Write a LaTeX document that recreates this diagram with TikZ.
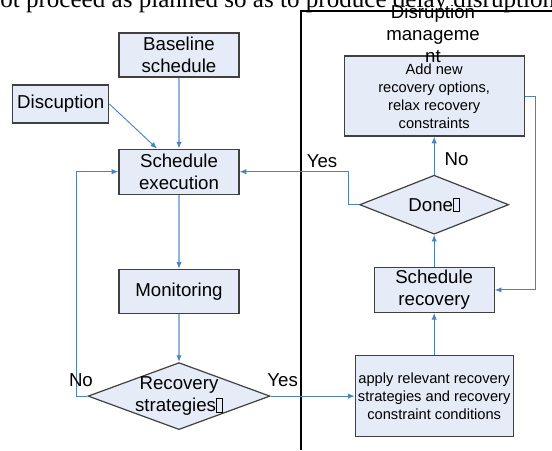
\documentclass[tikz,border=0pt]{standalone}
\usepackage{fontspec}
\setmainfont{Liberation Sans}
\newfontfamily\bodyserif{Liberation Serif}
\usetikzlibrary{shapes.geometric,arrows.meta,positioning,calc}
\definecolor{boxfill}{HTML}{E5EBF7}
\definecolor{boxline}{HTML}{404040}
\definecolor{flowblue}{HTML}{4F81BD}
\definecolor{flowlight}{HTML}{95B3D7}
\newcommand{\tofu}{{\setlength{\fboxsep}{0pt}\setlength{\fboxrule}{0.5pt}\fbox{\rule{0pt}{0.7em}\hspace{0.3em}}}}

\begin{document}
\begin{tikzpicture}[
    x=0.75pt, y=-0.75pt,
    font=\fontsize{14}{16.5}\selectfont,
    box/.style={rectangle, draw=boxline, line width=0.9pt, fill=boxfill, align=center, inner sep=1pt},
    smallbox/.style={box, font=\fontsize{11}{13.5}\selectfont},
    decision/.style={diamond, draw=boxline, line width=0.9pt, fill=boxfill, inner sep=0pt},
    lbl/.style={inner sep=0pt},
    flow/.style={-{Latex[length=5pt,width=4pt]}, draw=flowblue, line width=0.7pt},
    mainflow/.style={draw=flowlight, line width=1.4pt, -{Latex[length=5pt,width=4pt,color=flowblue]}}
]
\useasboundingbox (0,0) rectangle (552,450);

% Execution side
\node[box, minimum width=90pt, minimum height=33pt] (base) at (179,55) {Baseline\\schedule};
\node[box, minimum width=90pt, minimum height=33.75pt, below=53.25pt of base] (exec) {Schedule\\execution};
\node[box, minimum width=72pt, minimum height=28.5pt, above left=18.75pt and 6.75pt of exec] (disc) {Discuption};
\node[box, minimum width=90pt, minimum height=33pt, below=55.5pt of exec] (mon) {Monitoring};
\node[decision, minimum width=136.5pt, minimum height=50.25pt, below=36pt of mon,
    label={[align=center]center:Recovery\\strategies\tofu}] (rec) {};

% Disruption management side
\node[smallbox, minimum width=118.5pt, minimum height=60.75pt, right=63pt of rec] (apply) {apply relevant recovery\\strategies and recovery\\constraint conditions};
\node[box, minimum width=90pt, minimum height=33.75pt, above=31.5pt of apply] (srec) {Schedule\\recovery};
\node[decision, minimum width=111.75pt, minimum height=44.25pt, above=24pt of srec,
    label={center:Done\tofu}] (done) {};
\node[smallbox, minimum width=135pt, minimum height=60pt, above=28.5pt of done] (add) {Add new\\recovery options,\\relax recovery\\constraints};

% Panel frame
\draw[black, line width=0.8pt] (301,450) -- (301,11) -- (552,11);
\node[align=center] (title) at (433,34) {Disruption\\manageme\\nt};

% Arrows, execution side
\draw[mainflow] (base) -- (exec);
\draw[flow] (disc.east) -- ($(exec.north)+(-22,0)$);
\draw[mainflow] (exec) -- (mon);
\draw[mainflow] (mon) -- (rec);
\draw[flow] (rec.west) -- node[lbl, pos=1, above=6.75pt, xshift=3.4pt] {No} ++(-11,0) |- (exec.west);
\draw[flow] (rec.east) -- node[lbl, pos=0, above=6.75pt, xshift=9pt] {Yes} (apply.west);

% Arrows, disruption management side
\draw[flow] (apply) -- (srec);
\draw[flow] (srec) -- (done);
\draw[flow] (done.north) -- node[lbl, pos=0.4, right=7.5pt] {No} (add.south);
\draw[flow] (done.west) -- ++(-11,0) |- node[lbl, pos=0.62, above=3pt] {Yes} (exec.east);
\draw[flow] (add.east) -- ++(11,0) |- (srec.east);

% Cut line of the page text
\begin{scope}
\clip (0,0) rectangle (552,450);
\fill[white] (0,0) rectangle (552,5);
\node[anchor=base west, inner sep=0pt, font=\bodyserif\fontsize{18.8}{22}\selectfont] (cut) at (-12.5,7) {not proceed as planned so as to produce delay disruption};
\end{scope}
\end{tikzpicture}
\end{document}
